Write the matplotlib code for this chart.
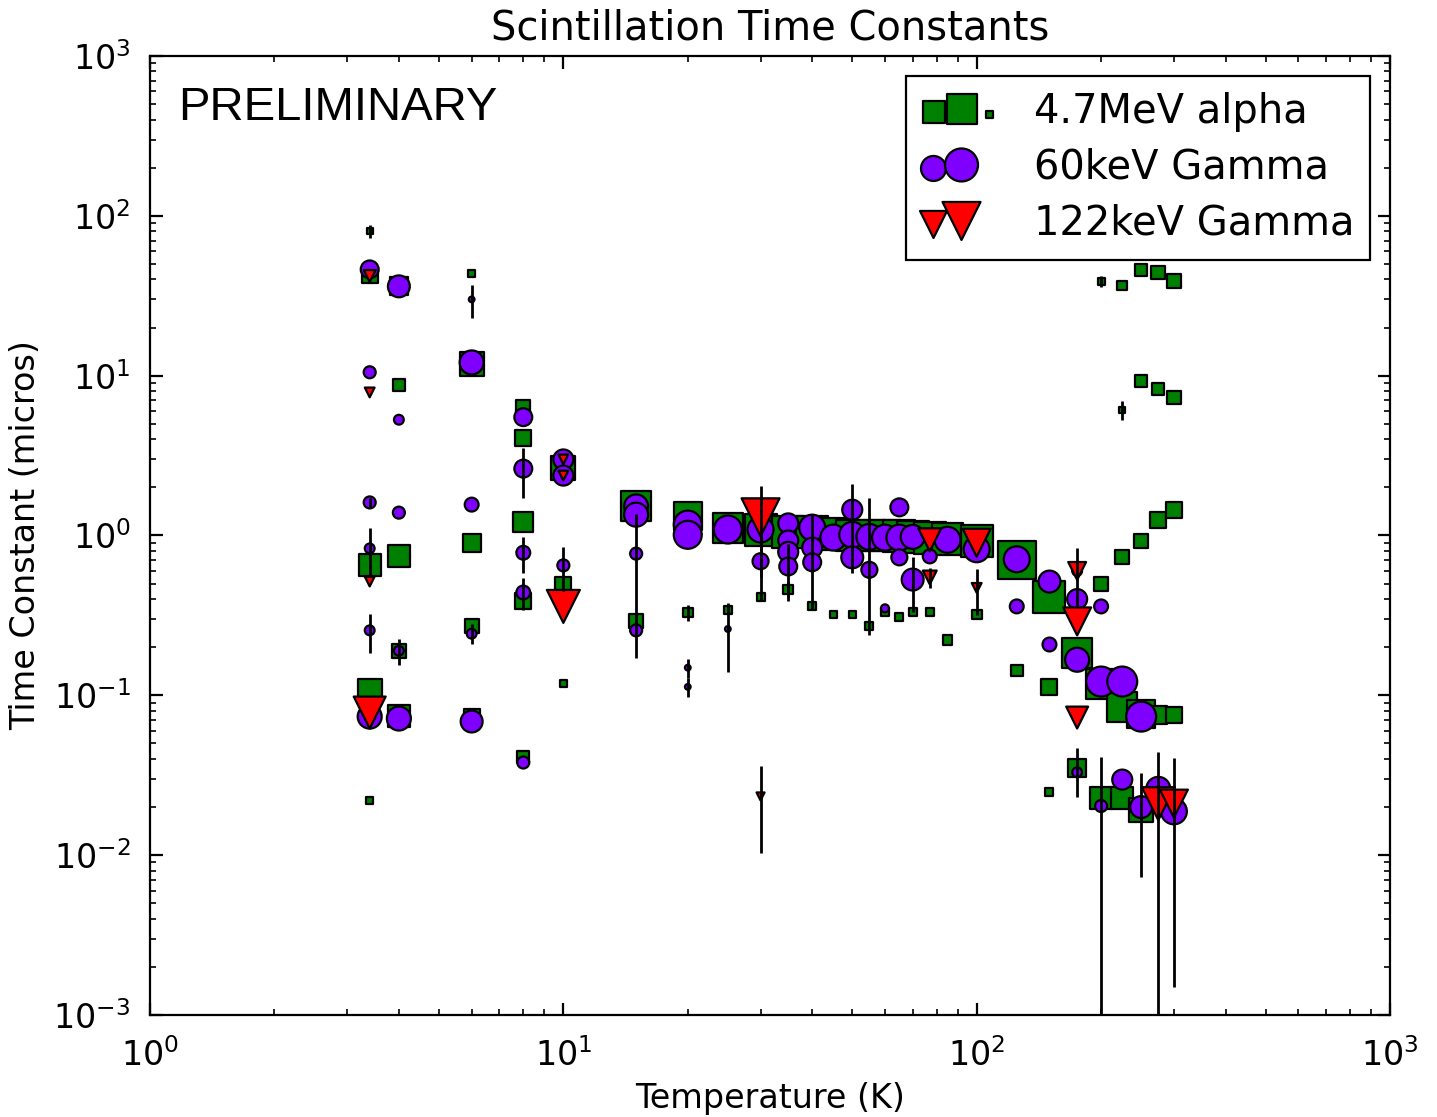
import numpy as np
import matplotlib
matplotlib.use('Agg')
import matplotlib.pyplot as plt
from matplotlib.legend_handler import HandlerPathCollection

# ── data: temperature (K), time constant (us), relative amplitude, y-error ──
alpha_T = [3.4, 3.4, 3.4, 3.4, 3.4,
           4, 4, 4, 4, 4,
           6, 6, 6, 6, 6,
           8, 8, 8, 8, 8,
           10, 10, 10,
           15, 15, 20, 20, 25, 25, 30, 30, 35, 35, 40, 40, 45, 45,
           50, 50, 55, 55, 60, 60, 65, 65, 70, 70, 77, 77, 85, 85, 100, 100,
           125, 125, 150, 150, 150, 175, 175,
           200, 200, 200, 200,
           225, 225, 225, 225, 225,
           250, 250, 250, 250, 250,
           275, 275, 275, 275,
           300, 300, 300, 300]
alpha_tau = [80, 42.4, 0.65, 0.106, 0.022,
             36.5, 8.8, 0.74, 0.19, 0.074,
             43.6, 11.8, 0.90, 0.27, 0.073,
             6.4, 4.1, 1.22, 0.39, 0.041,
             2.65, 0.49, 0.119,
             1.52, 0.29, 1.32, 0.33, 1.12, 0.34, 1.08, 0.41, 1.05, 0.46, 1.05, 0.36,
             1.02, 0.32, 1.0, 0.32, 1.0, 0.27, 1.0, 0.33, 0.99, 0.31, 0.98, 0.33,
             0.97, 0.33, 0.95, 0.223, 0.92, 0.32,
             0.70, 0.143, 0.41, 0.112, 0.025, 0.185, 0.035,
             38.9, 0.50, 0.118, 0.0229,
             36.6, 6.1, 0.73, 0.085, 0.0229,
             45.5, 9.2, 0.92, 0.076, 0.0193,
             44.2, 8.2, 1.25, 0.075,
             38.9, 7.3, 1.45, 0.075]
alpha_amp = [0.02, 0.16, 0.30, 0.36, 0.03,
             0.20, 0.09, 0.30, 0.12, 0.30,
             0.03, 0.36, 0.20, 0.12, 0.16,
             0.12, 0.16, 0.25, 0.16, 0.09,
             0.36, 0.16, 0.03,
             0.56, 0.12, 0.49, 0.06, 0.56, 0.04, 0.64, 0.04, 0.64, 0.06, 0.64, 0.04,
             0.64, 0.03, 0.64, 0.03, 0.64, 0.04, 0.64, 0.04, 0.64, 0.04, 0.64, 0.04,
             0.64, 0.04, 0.64, 0.06, 0.64, 0.06,
             0.90, 0.09, 0.64, 0.16, 0.04, 0.56, 0.20,
             0.03, 0.12, 0.56, 0.30,
             0.06, 0.02, 0.12, 0.56, 0.30,
             0.09, 0.09, 0.12, 0.49, 0.36,
             0.12, 0.09, 0.16, 0.20,
             0.12, 0.12, 0.16, 0.16]
alpha_err = [7, 0, 0, 0, 0,
             0, 0, 0, 0.035, 0,
             0, 0, 0, 0, 0,
             0, 0, 0, 0, 0,
             0, 0, 0,
             0, 0, 0, 0.04, 0, 0, 0, 0, 0, 0.05, 0, 0,
             0, 0, 0, 0, 0, 0, 0, 0, 0, 0, 0, 0,
             0, 0, 0, 0, 0, 0,
             0, 0, 0, 0, 0, 0, 0.012,
             3, 0, 0, 0,
             0, 0.8, 0, 0, 0,
             0, 0, 0, 0, 0,
             0, 0, 0, 0,
             0, 0, 0, 0]

g60_T = [3.4, 3.4, 3.4, 3.4, 3.4, 3.4,
         4, 4, 4, 4, 4,
         6, 6, 6, 6, 6,
         8, 8, 8, 8, 8,
         10, 10, 10,
         15, 15, 15, 15,
         20, 20, 20, 20, 25, 25, 30, 30,
         35, 35, 35, 35, 40, 40, 40, 45,
         50, 50, 50, 55, 55, 60, 60, 65, 65, 65, 70, 70, 77, 85, 100,
         125, 125, 150, 150, 175, 175, 175, 175,
         200, 200, 200, 225, 225, 250, 250, 275, 300]
g60_tau = [46.2, 10.5, 1.61, 0.83, 0.255, 0.0736,
           36.2, 5.3, 1.39, 0.19, 0.0716,
           30.0, 12.1, 1.56, 0.243, 0.0686,
           5.5, 2.62, 0.78, 0.44, 0.038,
           2.99, 2.37, 0.65,
           1.52, 1.35, 0.77, 0.255,
           1.17, 1.01, 0.149, 0.113, 1.09, 0.26, 1.09, 0.69,
           1.19, 0.93, 0.79, 0.64, 1.12, 0.84, 0.68, 0.97,
           1.45, 1.01, 0.73, 0.98, 0.61, 0.97, 0.35, 1.5, 0.97, 0.73, 0.98, 0.53,
           0.74, 0.94, 0.82,
           0.71, 0.36, 0.515, 0.208, 0.60, 0.40, 0.167, 0.033,
           0.36, 0.122, 0.0203, 0.122, 0.0297, 0.0736, 0.020, 0.026, 0.0188]
g60_amp = [0.20, 0.09, 0.09, 0.06, 0.06, 0.36,
           0.30, 0.06, 0.09, 0.06, 0.36,
           0.02, 0.36, 0.12, 0.06, 0.30,
           0.20, 0.20, 0.12, 0.12, 0.09,
           0.25, 0.25, 0.09,
           0.36, 0.36, 0.09, 0.09,
           0.49, 0.49, 0.02, 0.02, 0.49, 0.02, 0.42, 0.16,
           0.25, 0.25, 0.25, 0.20, 0.42, 0.25, 0.20, 0.42,
           0.25, 0.42, 0.30, 0.42, 0.16, 0.42, 0.04, 0.20, 0.42, 0.16, 0.36, 0.30,
           0.12, 0.42, 0.42,
           0.42, 0.12, 0.30, 0.12, 0.06, 0.25, 0.36, 0.06,
           0.12, 0.56, 0.09, 0.56, 0.25, 0.56, 0.30, 0.36, 0.42]
g60_err = [0, 0, 0.1, 0.28, 0.07, 0,
           0, 0, 0, 0, 0,
           7, 0, 0, 0.035, 0,
           0, 0.9, 0.2, 0.1, 0,
           0, 0, 0.2,
           0, 0, 0.6, 0,
           0, 0, 0.02, 0.015, 0, 0.12, 0, 0.3,
           0, 0, 0, 0.25, 0, 0.5, 0, 0,
           0.65, 0, 0.15, 0.74, 0, 0, 0, 0, 0, 0, 0, 0.2,
           0, 0, 0,
           0, 0, 0, 0, 0, 0, 0, 0,
           0, 0, 0.021, 0, 0, 0, 0.0127, 0, 0]

g122_T = [3.4, 3.4, 3.4, 3.4, 10, 10, 10, 30, 30,
          77, 77, 100, 100, 175, 175, 175, 275, 300]
g122_tau = [42.0, 7.85, 0.515, 0.078, 2.99, 2.37, 0.36, 1.30, 0.0233,
            0.94, 0.546, 0.90, 0.47, 0.60, 0.29, 0.0726, 0.021, 0.021]
g122_amp = [0.09, 0.06, 0.06, 0.64, 0.06, 0.06, 0.68, 0.90, 0.04,
            0.33, 0.12, 0.49, 0.06, 0.20, 0.49, 0.30, 0.68, 0.49]
g122_err = [0, 0, 0, 0, 0, 0, 0, 0.75, 0.013,
            0, 0.08, 0, 0.15, 0.24, 0, 0, 0.023, 0.0195]

S_MAX = 207.0   # marker area (pt^2) for amplitude 1

plt.rcParams['font.family'] = ['DejaVu Sans']
plt.rcParams['xtick.direction'] = 'in'
plt.rcParams['ytick.direction'] = 'in'
plt.rcParams['xtick.top'] = True
plt.rcParams['ytick.right'] = True
plt.rcParams['xtick.major.size'] = 4.5
plt.rcParams['ytick.major.size'] = 4.5
plt.rcParams['xtick.minor.size'] = 2.2
plt.rcParams['ytick.minor.size'] = 2.2
plt.rcParams['xtick.labelsize'] = 12
plt.rcParams['ytick.labelsize'] = 12
plt.rcParams['xtick.major.pad'] = 8.5
plt.rcParams['ytick.major.pad'] = 7

fig = plt.figure(figsize=(1437 / 200, 1117 / 200), dpi=200)
ax = fig.add_axes([0.1044, 0.0913, 0.8629, 0.8586])

series = [
    (alpha_T, alpha_tau, alpha_amp, alpha_err, 's', 'green', '4.7MeV alpha'),
    (g60_T, g60_tau, g60_amp, g60_err, 'o', '#7f00ff', '60keV Gamma'),
    (g122_T, g122_tau, g122_amp, g122_err, 'v', 'red', '122keV Gamma'),
]
legend_px = {'s': [22, 30, 7], 'o': [25, 33, 0], 'v': [27, 38, 0]}

handles = []
hmap = {}
for k, (T, tau, amp, err, mk, col, lab) in enumerate(series):
    sc = ax.scatter(T, tau, s=np.array(amp) * S_MAX, marker=mk, c=col,
                    edgecolors='k', linewidths=0.8, label=lab, zorder=2 + k)
    handles.append(sc)
    sizes = [(0.36 * w) ** 2 for w in legend_px[mk]]
    hmap[sc] = HandlerPathCollection(sizes=sizes)

for (T, tau, amp, err, mk, col, lab) in series:
    T = np.array(T, float); tau = np.array(tau, float); err = np.array(err, float)
    m = err > 0
    ax.errorbar(T[m], tau[m], yerr=err[m], fmt='none', ecolor='k',
                elinewidth=1.0, capsize=0, zorder=6)

ax.set_xscale('log'); ax.set_yscale('log')
ax.set_xlim(1, 1000); ax.set_ylim(1e-3, 1e3)
ax.set_xlabel('Temperature (K)', fontsize=12, labelpad=3)
ax.set_ylabel('Time Constant (micros)', fontsize=12)
ax.set_title('Scintillation Time Constants', fontsize=14.4)
ax.text(0.0226, 0.946, 'PRELIMINARY', transform=ax.transAxes,
        family=['Liberation Sans', 'DejaVu Sans'], fontsize=17, va='center')

leg = ax.legend(handles=handles, handler_map=hmap, loc='upper right',
                scatterpoints=3, fontsize=14.4, fancybox=False,
                framealpha=1, edgecolor='k', borderaxespad=0.5,
                labelspacing=0.4)
leg.get_frame().set_linewidth(0.8)

fig.savefig('out.png', dpi=200)
